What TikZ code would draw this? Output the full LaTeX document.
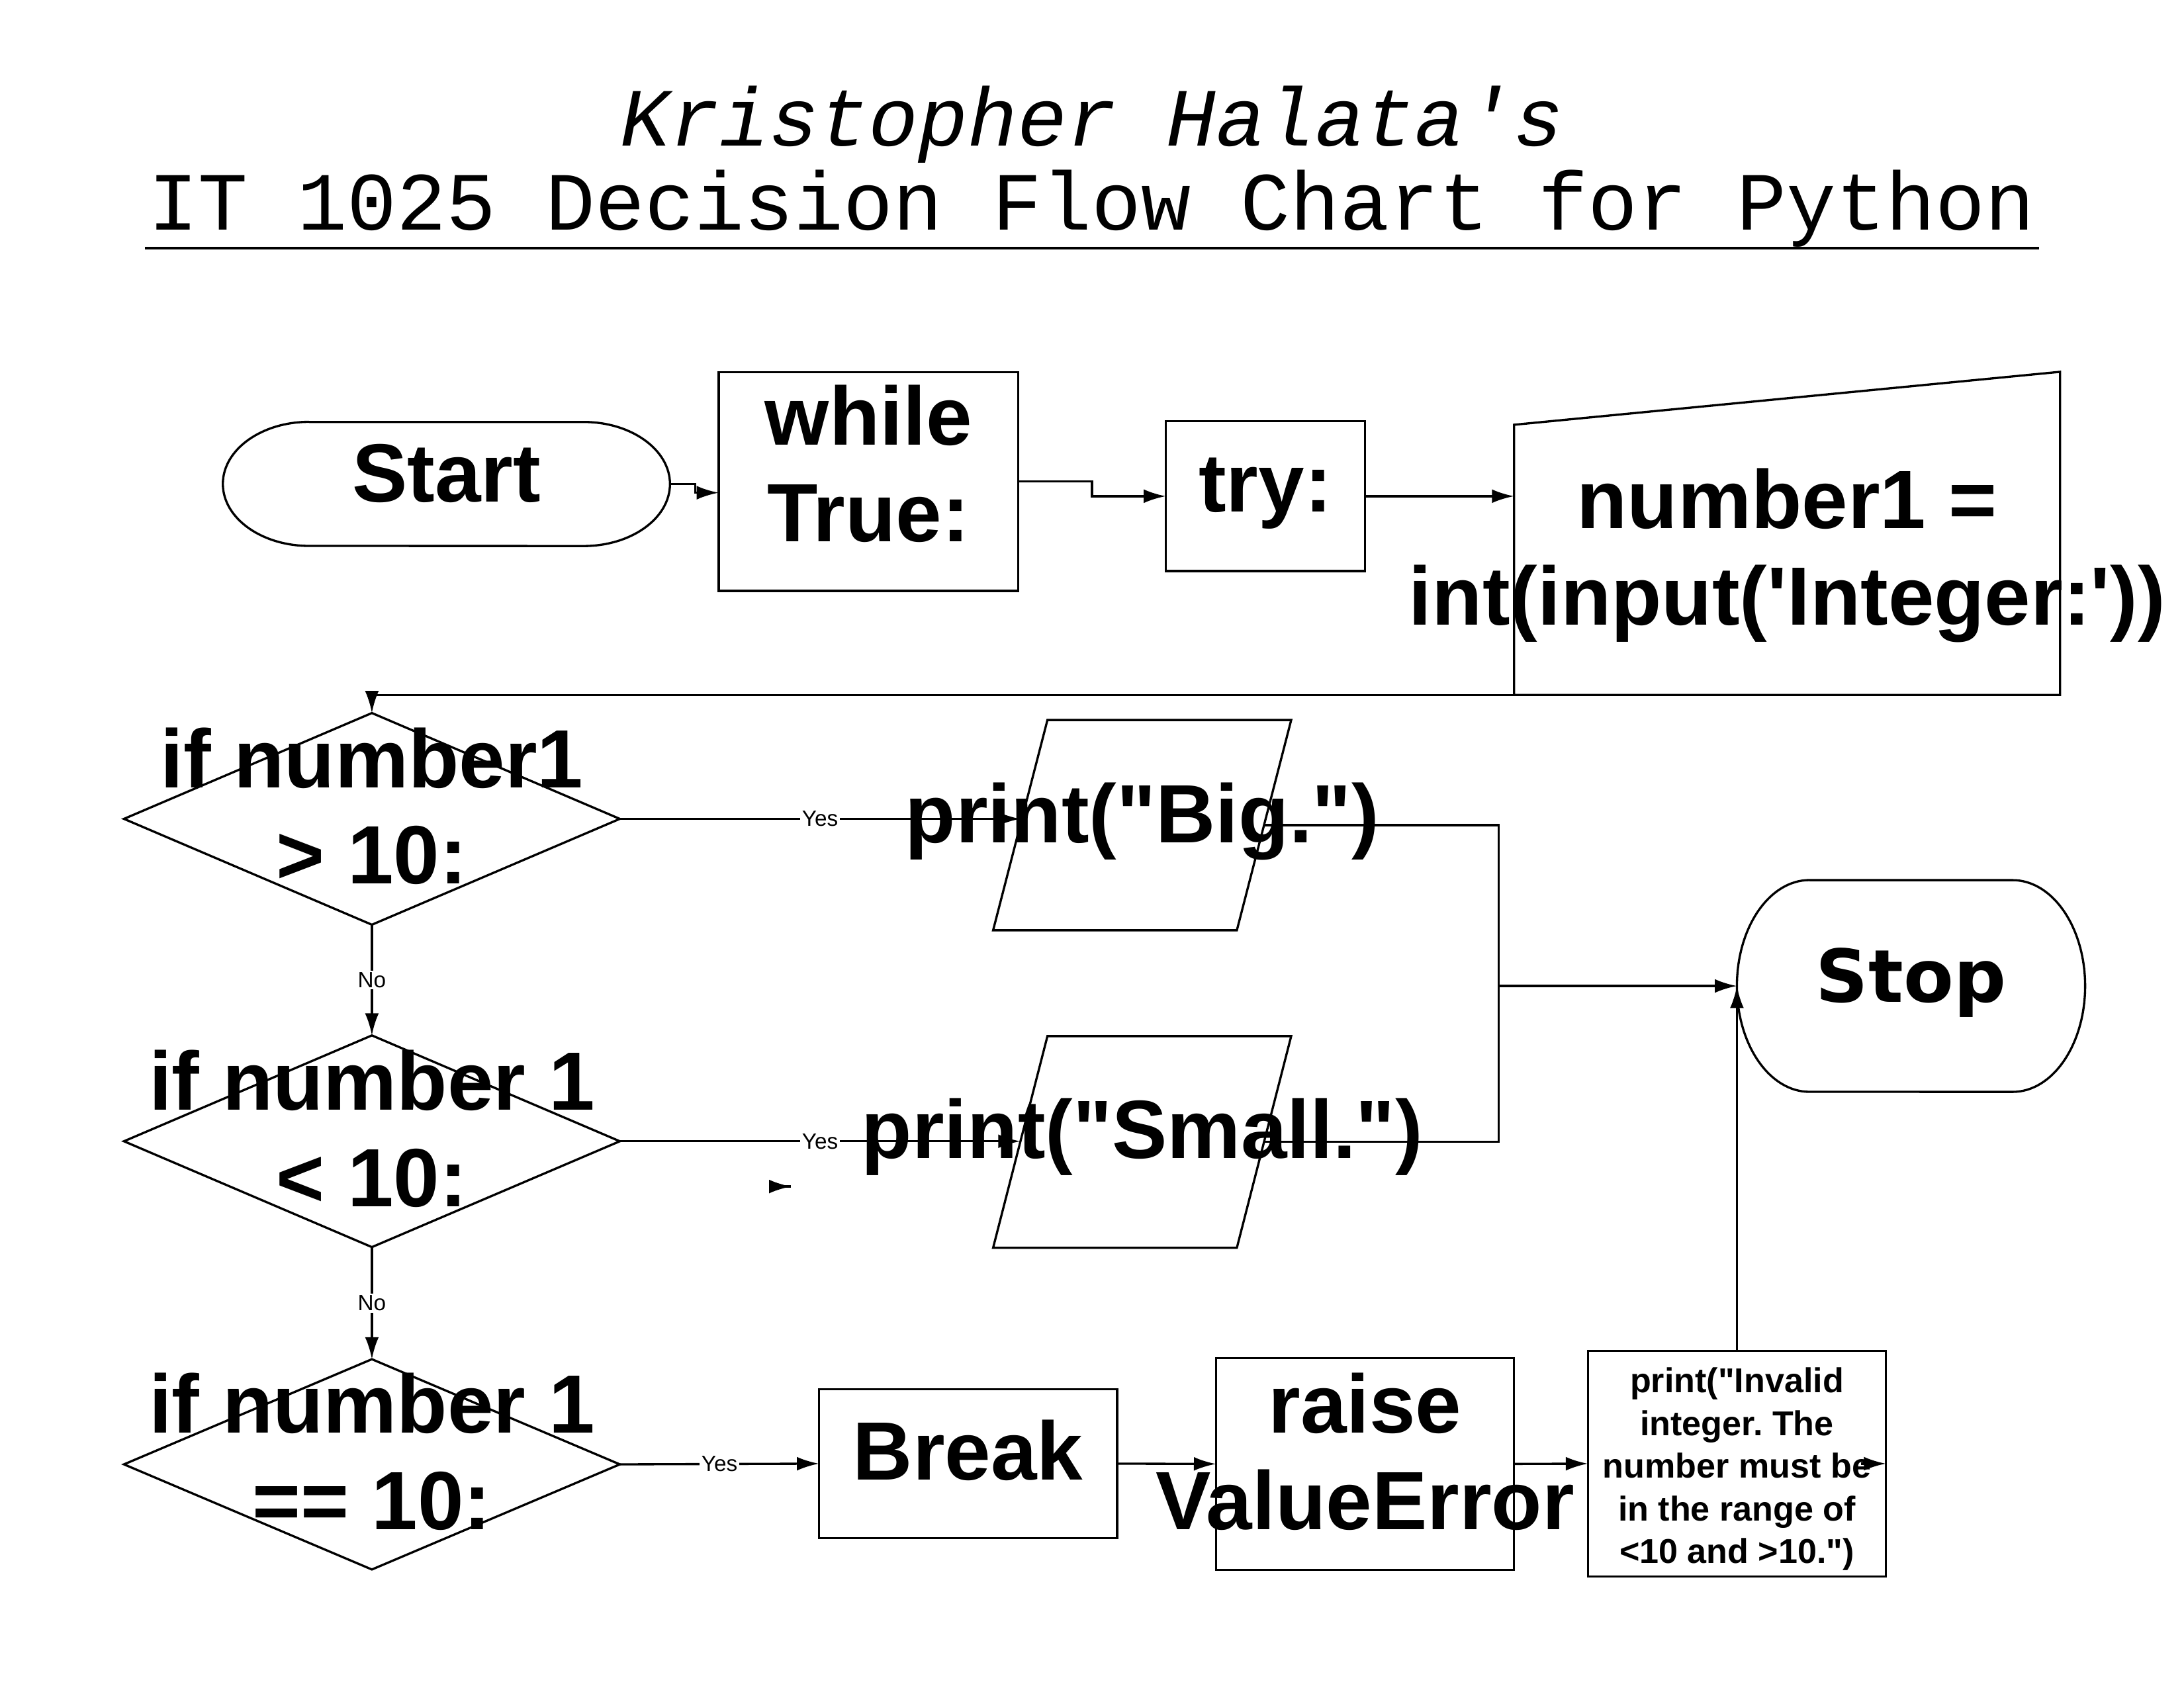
\documentclass[tikz,border=0pt]{standalone}
\usepackage{fontspec}
\setmainfont{Liberation Sans}[Ligatures=TeXOff]
\newfontfamily\titlefont{Liberation Mono}[Ligatures=TeXOff]
\newfontfamily\stopfont{DejaVu Sans}[Ligatures=TeXOff]
\usetikzlibrary{shapes.geometric, arrows.meta, calc}
\frenchspacing

% box size given in the units of the picture
\tikzset{dims/.style 2 args = {minimum width=#1*0.5051pt, minimum height=#2*0.5051pt}}

\begin{document}
\begin{tikzpicture}[
  x=0.5051pt, y=-0.5051pt,
  >={Latex[length=8pt,width=5pt]},
  line width=0.8pt,
  basic/.style    = {inner sep=0pt, outer sep=0pt},
  process/.style  = {basic, draw, rectangle},
  decision/.style = {basic, draw, diamond},
  bigtext/.style  = {font=\fontsize{30}{35}\selectfont\bfseries, align=center, inner sep=0pt},
  smalltext/.style = {font=\fontsize{12.5}{15.5}\selectfont\bfseries, align=center, inner sep=0pt},
  answer/.style   = {font=\fontsize{8}{9}\selectfont, fill=white, inner sep=0.6pt}]

  \useasboundingbox (0,0) rectangle (1568,1212);

  % title with underline
  \node[anchor=base, inner sep=0pt, font=\titlefont\fontsize{30}{34}\selectfont\itshape] (title1) at (784,105) {Kristopher Halata's};
  \node[anchor=base, inner sep=0pt, font=\titlefont\fontsize{30}{34}\selectfont] (title2) at (784,165) {IT 1025 Decision Flow Chart for Python};
  \draw[line width=1pt] (104,178) -- (1464,178);

  % first row: start, loop, try and input
  \node[basic, dims={321}{89}, label={[bigtext, yshift=3.8pt]center:Start}] (start) at (320.5,347.5) {};
  \node[process, dims={215}{157}, label={[bigtext, yshift=6.5pt]center:{while\\True:}}] (while) at (623.5,345.8) {};
  \node[process, dims={143}{107.5}, label={[bigtext, yshift=1pt]center:{try:}}] (try) at (908.5,356.3) {};
  \node[basic, dims={392}{213}, label={[bigtext, yshift=-3.3pt]center:{number1 =\\int(input('Integer:'))}}] (input) at (1283,392.5) {};

  % the three decisions
  \node[decision, dims={356}{152}, label={[bigtext, yshift=4.6pt]center:{if number1\\> 10:}}] (d1) at (267,588) {};
  \node[decision, dims={356}{152}, label={[bigtext, yshift=4.6pt]center:{if number 1\\< 10:}}] (d2) at (267,819.5) {};
  \node[decision, dims={356}{151}, label={[bigtext, yshift=4.6pt]center:{if number 1\\== 10:}}] (d3) at (267,1051.5) {};

  % outputs and the end
  \node[basic, dims={214}{151}, label={[bigtext, yshift=1.3pt]center:{print("Big.")}}] (big) at (820,592.5) {};
  \node[basic, dims={214}{152}, label={[bigtext, yshift=1.8pt]center:{print("Small.")}}] (small) at (820,820) {};
  \node[basic, dims={250}{152}, label={[bigtext, font=\stopfont\bfseries\fontsize{26.5}{32}\selectfont, yshift=1.2pt]center:Stop}] (stop) at (1372,708) {};

  % bottom row
  \node[process, dims={214}{107}, label={[bigtext, yshift=4.8pt]center:Break}] (brk) at (695,1051) {};
  \node[process, dims={214}{152}, label={[bigtext, yshift=4.5pt]center:{raise\\ValueError}}] (raise) at (980,1051.2) {};
  \node[process, dims={214}{162}, label={[smalltext, yshift=-2pt]center:{print("Invalid\\integer. The\\number must be\\in the range of\\<10 and >10.")}}] (inv) at (1247,1051) {};

  \coordinate (merge) at (1076,708);
  \coordinate (stray) at (568,852);

  % outlines of the terminators, the outputs and the input
  \foreach \n/\rx/\ry in {start/31.3pt/22.5pt, stop/26.3pt/38.4pt}
    \draw ([xshift=\rx]\n.north west) -- ([xshift=-\rx]\n.north east)
      arc[start angle=90, end angle=-90, x radius=\rx, y radius=\ry]
      -- ([xshift=\rx]\n.south west)
      arc[start angle=270, end angle=90, x radius=\rx, y radius=\ry];
  \foreach \n in {big,small}
    \draw ([xshift=19.7pt]\n.north west) -- (\n.north east)
      -- ([xshift=-19.7pt]\n.south east) -- (\n.south west) -- cycle;
  \draw ([yshift=-9.6pt]input.north west) -- ([yshift=9.6pt]input.north east) -- (input.south east) -- (input.south west) -- cycle;

  % connectors
  \draw[->] (start.east) -- ++(18,0) |- ($(while.west)+(0,8)$);
  \draw[->] (while.east) -- ++(53,0) |- (try.west);
  \draw[->] (try.east) -- (try.east -| input.west);
  \draw[->] (input.south west) -| (d1.north);
  \draw[->] (d1.east) -- node[answer] (yes1) {Yes} ($(d1.east -| big.west)+(19.5,0)$);
  \draw[->] (d2.east) -- node[answer] (yes2) {Yes} ($(d2.east -| small.west)+(19.5,0)$);
  \draw[->] (d3.east) -- node[answer] (yes3) {Yes} (brk.west);
  \draw[->] (d1.south) -- node[answer] (no1) {No} (d2.north);
  \draw[->] (d2.south) -- node[answer] (no2) {No} (d3.north);
  \draw ([xshift=-9.85pt]big.east) -| (merge);
  \draw ([xshift=-9.85pt]small.east) -| (merge);
  \draw[->] (merge) -- (stop.west);
  \draw[->] (brk.east) -- (raise.west);
  \draw[->] (raise.east) -- (inv.west);
  \draw[->] (inv.north) -- (inv.north |- stop.west);

  % loose arrow heads
  \draw[->] ([xshift=-9pt]inv.east) -- (inv.east);
  \draw[->] ([xshift=-0.2pt]stray) -- (stray);
\end{tikzpicture}
\end{document}
